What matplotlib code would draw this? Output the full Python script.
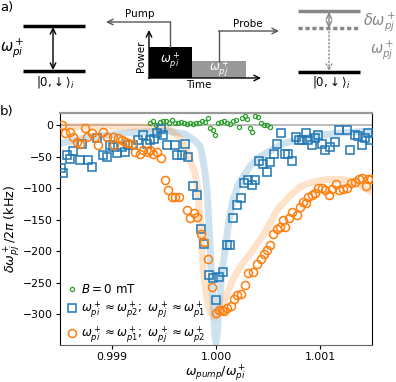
import matplotlib
matplotlib.use("Agg")
from matplotlib import pyplot as plt
from matplotlib.patches import Rectangle

# --- data ---
x_b0 = [0.999365, 0.999394, 0.999423, 0.999462, 0.999490, 0.999519, 0.999548, 0.999577,
        0.999606, 0.999635, 0.999663, 0.999692, 0.999721, 0.999750, 0.999779, 0.999808,
        0.999837, 0.999865, 0.999894, 0.999923, 0.999942, 0.999971, 0.999990, 1.000019,
        1.000048, 1.000077, 1.000106, 1.000135, 1.000163, 1.000192, 1.000221, 1.000250,
        1.000279, 1.000298, 1.000327, 1.000346, 1.000375, 1.000404, 1.000433, 1.000462,
        1.000490, 1.000519]
y_b0 = [3, 7, 1, 5, 6, 6, 4, 9, 3, 3, 5, 3, 2, 3, 2, 3, 4, 6, 5, 11, -5, -7, -16, 3,
        5, 7, 4, 2, 6, 8, -2, 12, 14, 10, -4, -11, 15, 13, 3, 1, 0, -2]

x_sq = [0.998510, 0.998529, 0.998567, 0.998596, 0.998625, 0.998692, 0.998712, 0.998769,
        0.998808, 0.998856, 0.998913, 0.998952, 0.998981, 0.999010, 0.999048, 0.999096,
        0.999125, 0.999154, 0.999202, 0.999250, 0.999298, 0.999337, 0.999365, 0.999404,
        0.999433, 0.999471, 0.999490, 0.999529, 0.999606, 0.999625, 0.999673, 0.999702,
        0.999731, 0.999779, 0.999817, 0.999856, 0.999885, 0.999933, 0.999971, 1.000000,
        1.000029, 1.000067, 1.000106, 1.000135, 1.000163, 1.000202, 1.000240, 1.000269,
        1.000308, 1.000346, 1.000375, 1.000413, 1.000452, 1.000490, 1.000519, 1.000558,
        1.000587, 1.000625, 1.000663, 1.000692, 1.000731, 1.000769, 1.000798, 1.000827,
        1.000865, 1.000885, 1.000923, 1.000952, 1.000981, 1.001019, 1.001048, 1.001096,
        1.001144, 1.001183, 1.001260, 1.001288, 1.001337, 1.001365, 1.001404, 1.001433,
        1.001462, 1.001481]
y_sq = [-68, -76, -47, -53, -41, -55, -29, -55, -66, -20, -47, -51, -31, -34, -44, -34,
        -42, -31, -31, -23, -15, -29, -23, -22, -13, -6, -15, -32, -31, -47, -47, -29,
        -50, -97, -111, -164, -189, -238, -243, -277, -241, -233, -190, -190, -148, -127,
        -116, -92, -87, -95, -87, -56, -61, -74, -58, -45, -29, -13, -45, -45, -56, -19,
        -23, -24, -13, -24, -32, -21, -16, -29, -40, -34, -26, -7, -7, -39, -16, -17, -32,
        -21, -12, -24]

x_ci = [0.998519, 0.998548, 0.998596, 0.998625, 0.998663, 0.998692, 0.998740, 0.998760,
        0.998808, 0.998837, 0.998865, 0.998913, 0.998952, 0.999010, 0.999019, 0.999058,
        0.999096, 0.999125, 0.999154, 0.999192, 0.999221, 0.999269, 0.999298, 0.999346,
        0.999365, 0.999394, 0.999433, 0.999471, 0.999510, 0.999538, 0.999577, 0.999606,
        0.999644, 0.999721, 0.999750, 0.999788, 0.999817, 0.999856, 0.999885, 0.999923,
        0.999962, 1.000000, 1.000029, 1.000058, 1.000077, 1.000106, 1.000144, 1.000173,
        1.000202, 1.000240, 1.000279, 1.000308, 1.000356, 1.000394, 1.000433, 1.000462,
        1.000490, 1.000519, 1.000548, 1.000587, 1.000615, 1.000644, 1.000663, 1.000702,
        1.000731, 1.000779, 1.000808, 1.000837, 1.000865, 1.000885, 1.000923, 1.000952,
        1.000981, 1.001019, 1.001048, 1.001087, 1.001115, 1.001154, 1.001183, 1.001221,
        1.001260, 1.001298, 1.001337, 1.001375, 1.001404, 1.001442, 1.001462, 1.001490]
y_ci = [0, -13, -11, -19, -26, -30, -4, -18, -12, -19, -31, -11, -19, -19, -32, -21,
        -24, -27, -28, -29, -42, -46, -40, -42, -39, -46, -42, -52, -87, -103, -114, -114,
        -114, -135, -147, -140, -145, -173, -186, -212, -257, -298, -294, -294, -295, -291,
        -287, -276, -270, -268, -254, -235, -233, -220, -212, -205, -198, -190, -172, -164,
        -161, -151, -161, -148, -138, -143, -130, -122, -124, -114, -111, -108, -100, -100,
        -103, -111, -102, -93, -103, -102, -100, -92, -90, -85, -83, -97, -86, -85]

# fit curves (traced)
x_fit_sq = [0.998500, 0.998692, 0.998885, 0.999202, 0.999529, 0.999702, 0.999798, 0.999846,
            0.999865, 0.999894, 0.999913, 0.999933, 0.999952, 0.999971, 0.999990, 1.000000,
            1.000010, 1.000029, 1.000048, 1.000067, 1.000087, 1.000125, 1.000163, 1.000212,
            1.000260, 1.000327, 1.000423, 1.000644, 1.000971, 1.001288, 1.001500]
y_fit_sq = [-29, -22, -17, -11, -9, -14, -25, -33, -45, -75, -103, -160, -222, -280, -335,
            -345, -335, -290, -250, -222, -198, -150, -119, -95, -82, -65, -50, -29, -16,
            -11, -9]
x_fit_ci = [0.998500, 0.998885, 0.999365, 0.999529, 0.999577, 0.999654, 0.999702, 0.999750,
            0.999798, 0.999827, 0.999846, 0.999865, 0.999885, 0.999913, 0.999942, 0.999981,
            1.000010, 1.000038, 1.000077, 1.000106, 1.000163, 1.000231, 1.000356, 1.000471,
            1.000587, 1.000712, 1.000808, 1.000933, 1.001067, 1.001192, 1.001288, 1.001385,
            1.001500]
y_fit_ci = [-2, -2, -3, -5, -10, -20, -35, -55, -75, -103, -150, -200, -240, -275, -295,
            -305, -302, -295, -280, -267, -245, -225, -198, -170, -135, -112, -98, -90, -86,
            -86, -88, -95, -106]

xticks = [0.999, 1.000, 1.001]
xticklabels = ["0.999", "1.000", "1.001"]
yticks = [0, -50, -100, -150, -200, -250, -300]

fig = plt.figure(figsize=(3.96, 3.82), dpi=100)

# ---------- panel a: schematic in pixel coordinates ----------
sk = fig.add_axes([0, 0, 1, 1])
sk.set_xlim(0, 396)
sk.set_ylim(382, 0)
sk.axis("off")

sk.text(0, 8, "a)", fontsize=9.5, va="center", ha="left")
sk.text(0, 111, "b)", fontsize=9.5, va="center", ha="left")

# left level scheme
sk.plot([23, 85], [26, 26], color="k", lw=2.5, solid_capstyle="butt")
sk.plot([23, 85], [71, 71], color="k", lw=2.5, solid_capstyle="butt")
sk.annotate("", xy=(53, 27), xytext=(53, 70),
            arrowprops=dict(arrowstyle="<->", color="k", lw=1, shrinkA=0, shrinkB=0))
sk.text(12, 48, r"$\omega_{pi}^+$", fontsize=10.5, ha="center", va="center")
sk.text(55, 82, r"$|0,\!\downarrow\rangle_i$", fontsize=8.5, ha="center", va="center")

# pulse scheme
sk.add_patch(Rectangle((149, 47), 43, 31, color="k", lw=0))
sk.add_patch(Rectangle((192, 61), 54, 17, color="#999999", lw=0))
sk.text(170, 61, r"$\omega_{pi}^+$", color="w", fontsize=8.5, ha="center", va="center")
sk.text(219, 69, r"$\omega_{pj}^+$", color="w", fontsize=8.5, ha="center", va="center")
sk.annotate("", xy=(149, 30), xytext=(149, 78.5),
            arrowprops=dict(arrowstyle="->", color="k", lw=1, shrinkA=0, shrinkB=0))
sk.annotate("", xy=(261, 78), xytext=(148.5, 78),
            arrowprops=dict(arrowstyle="->", color="k", lw=1, shrinkA=0, shrinkB=0))
sk.text(141, 56, "Power", rotation=90, fontsize=7.5, ha="center", va="center")
sk.text(199, 85, "Time", fontsize=7.5, ha="center", va="center")
sk.plot([170, 170], [47, 22], color="#555555", lw=1)
sk.annotate("", xy=(106, 22), xytext=(170.5, 22),
            arrowprops=dict(arrowstyle="->", color="#555555", lw=1, shrinkA=0, shrinkB=0))
sk.text(140, 14, "Pump", fontsize=7.5, ha="center", va="center")
sk.plot([219, 219], [61, 31], color="#555555", lw=1)
sk.annotate("", xy=(279, 31), xytext=(218.5, 31),
            arrowprops=dict(arrowstyle="->", color="#555555", lw=1, shrinkA=0, shrinkB=0))
sk.text(248, 24, "Probe", fontsize=7.5, ha="center", va="center")

# right level scheme
gray = "#888888"
sk.plot([298, 360], [11, 11], color=gray, lw=2.5, solid_capstyle="butt")
sk.plot([298, 360], [28, 28], color=gray, lw=2.5, ls=(0, (1.2, 0.8)), solid_capstyle="butt")
sk.plot([298, 360], [72, 72], color="k", lw=2.5, solid_capstyle="butt")
sk.annotate("", xy=(329, 12), xytext=(329, 28),
            arrowprops=dict(arrowstyle="<->", color=gray, lw=1, shrinkA=0, shrinkB=0))
sk.annotate("", xy=(329, 71), xytext=(329, 28),
            arrowprops=dict(arrowstyle="->", color=gray, lw=1, ls=":", shrinkA=0, shrinkB=0))
sk.text(380, 22, r"$\delta\omega_{pj}^+$", color=gray, fontsize=10.5, ha="center", va="center")
sk.text(382, 50, r"$\omega_{pj}^+$", color=gray, fontsize=10.5, ha="center", va="center")
sk.text(331, 82, r"$|0,\!\downarrow\rangle_i$", fontsize=8.5, ha="center", va="center")

# ---------- panel b ----------
ax = fig.add_axes([60 / 396, 1 - 345 / 382, 312 / 396, 232 / 382])
ax.axhline(0, color="#b0b0b0", lw=1.2, zorder=1)
ax.plot(x_fit_sq, y_fit_sq, color="C0", alpha=0.22, lw=5, solid_capstyle="round", zorder=2)
ax.plot(x_fit_ci, y_fit_ci, color="C1", alpha=0.22, lw=5, solid_capstyle="round", zorder=2)

ax.plot(x_b0, y_b0, "o", ms=3, mfc="none", mec="C2", mew=0.9, label=r"$B=0$ mT", zorder=3)
ax.plot(x_sq, y_sq, "s", ms=5.2, mfc="none", mec="C0", mew=1.1,
        label=r"$\omega_{pi}^+\approx\omega_{p2}^+;\ \omega_{pj}^+\approx\omega_{p1}^+$", zorder=3)
ax.plot(x_ci, y_ci, "o", ms=5.8, mfc="none", mec="C1", mew=1.1,
        label=r"$\omega_{pi}^+\approx\omega_{p1}^+;\ \omega_{pj}^+\approx\omega_{p2}^+$", zorder=3)

ax.set_xlim(0.9985, 1.0015)
ax.set_ylim(-349, 19.5)
ax.set_xticks(xticks)
ax.set_xticklabels(xticklabels)
ax.set_yticks(yticks)
ax.tick_params(labelsize=7.8, length=3, pad=2)
ax.set_xlabel(r"$\omega_{pump}/\omega_{pi}^+$", fontsize=9)
ax.xaxis.set_label_coords(0.5, -0.076)
ax.set_ylabel(r"$\delta\omega_{pj}^+/2\pi$ (kHz)", fontsize=9.2)
ax.yaxis.set_label_coords(-0.122, 0.5)
ax.spines["top"].set_color("#999999")
ax.spines["top"].set_linewidth(1.6)
ax.spines["bottom"].set_color("#666666")

ax.legend(loc="lower left", frameon=False, fontsize=8.6, handletextpad=0.2,
          handlelength=1.2, borderaxespad=0.0, labelspacing=0.3,
          bbox_to_anchor=(0.0, -0.02))

fig.savefig("out.png", dpi=100)
